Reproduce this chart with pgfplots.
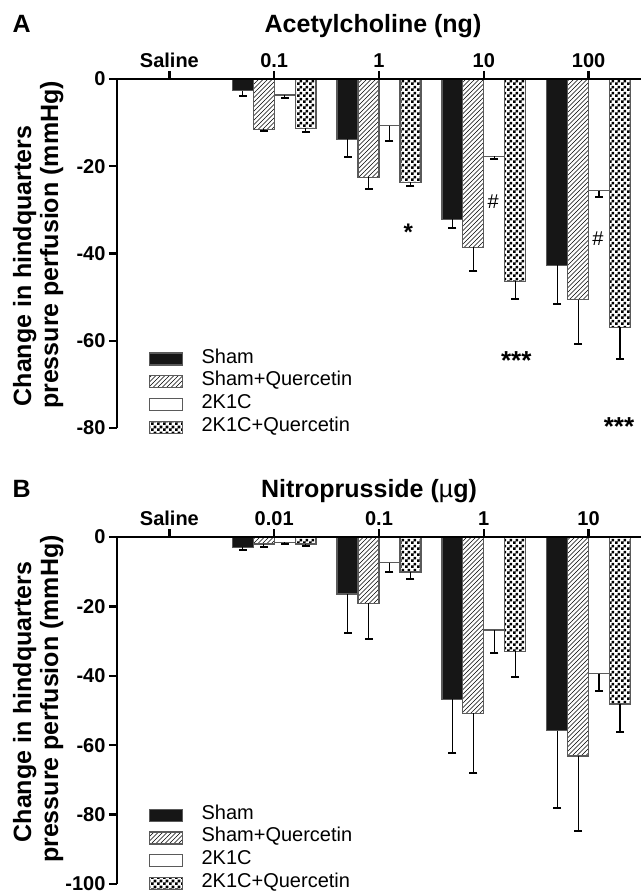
\documentclass[border=0pt]{standalone}
\usepackage{fontspec}
\setmainfont{Liberation Sans}
\usepackage{pgfplots}
\pgfplotsset{compat=1.18}
\usetikzlibrary{patterns}

\definecolor{barblack}{HTML}{161616}
\definecolor{bargray}{HTML}{5A5A5A}

% hatch and checker fills, sized to the reference
\pgfdeclarepatternformonly{myhatch}{\pgfqpoint{-1pt}{-1pt}}{\pgfqpoint{5.5pt}{5.5pt}}{\pgfqpoint{4.5pt}{4.5pt}}%
{\pgfsetlinewidth{0.6pt}\pgfpathmoveto{\pgfqpoint{0pt}{0pt}}\pgfpathlineto{\pgfqpoint{4.6pt}{4.6pt}}\pgfusepath{stroke}}
\pgfdeclarepatternformonly{mychecker}{\pgfpointorigin}{\pgfqpoint{5.6pt}{5.6pt}}{\pgfqpoint{5.6pt}{5.6pt}}%
{\pgfpathrectangle{\pgfpointorigin}{\pgfqpoint{2.8pt}{2.8pt}}\pgfpathrectangle{\pgfqpoint{2.8pt}{2.8pt}}{\pgfqpoint{2.8pt}{2.8pt}}\pgfusepath{fill}}

\newcommand\fnt[1]{\fontsize{#1}{#1}\selectfont}

\pgfplotsset{
  panel/.style={
    scale only axis, width=524pt, anchor=south west,
    xmin=-0.5, xmax=4.5,
    axis x line*=top, axis y line*=left,
    axis line style={line width=2.6pt, -},
    tick align=outside, major tick length=8pt,
    every tick/.style={black, line width=2.4pt},
    xtick={0,1,2,3,4},
    x tick label style={font=\fnt{20}\bfseries},
    y tick label style={font=\fnt{20}\bfseries},
    axis on top, clip=false,
    legend style={anchor=north west, draw=none, fill=none, inner sep=0pt, outer sep=0pt,
      row sep=2.7pt, legend cell align=left,
      nodes={font=\fnt{20}, inner sep=0pt, text height=14pt, text depth=6pt}},
    % patch 33pt wide; the discarded point widens the cell so the text starts 52pt from the patch's left edge
    legend image code/.code={\draw[#1] (0pt,-6pt) rectangle (33pt,6pt);
      \pgfpathmoveto{\pgfqpoint{52pt}{0pt}}\pgfusepath{discard}},
    error bars/error bar style={line width=1.2pt, black},
    error bars/error mark options={rotate=90, black, line width=2pt, mark size=4pt},
  },
  barbase/.style={ybar, bar width=0.2, bar shift=0pt, draw=bargray, line width=1.3pt,
    error bars/y dir=minus, error bars/y explicit},
  sham/.style={barbase, fill=barblack},
  shamq/.style={barbase, fill=white, postaction={pattern=myhatch}},
  kc/.style={barbase, fill=white},
  kcq/.style={barbase, fill=white, postaction={pattern=mychecker}},
}

\begin{document}
\begin{tikzpicture}
\path[use as bounding box] (0,0) rectangle (641pt,-896pt);

% ---------- panel A ----------
\node[anchor=base west, font=\fnt{25}\bfseries] at (9pt,-33pt) {A};
\node[anchor=base, font=\fnt{25}\bfseries] at (373pt,-33pt) {Acetylcholine (ng)};
\node[rotate=90, anchor=base, font=\fnt{25}\bfseries] at (31pt,-266pt) {Change in hindquarters};
\node[rotate=90, anchor=base, font=\fnt{25}\bfseries] at (58pt,-245pt) {pressure perfusion (mmHg)};

\begin{axis}[panel, at={(117pt,-428pt)}, height=349pt,
  ymin=-80, ymax=0, ytick={-80,-60,-40,-20,0}, yticklabels={-80,-60,-40,-20,0},
  xticklabels={Saline,0.1,1,10,100},
  legend style={at={(axis description cs:0.061,0.226)}}]
% bars sit at group -0.3, -0.1, +0.1, +0.3
\addplot[sham] coordinates {(0.7,-2.7) +- (0,1.1) (1.7,-13.8) +- (0,4.1) (2.7,-32.2) +- (0,2.0) (3.7,-42.7) +- (0,8.8)};
\addlegendentry{Sham}
\addplot[shamq] coordinates {(0.9,-11.5) +- (0,0.5) (1.9,-22.5) +- (0,2.8) (2.9,-38.6) +- (0,5.4) (3.9,-50.6) +- (0,10.2)};
\addlegendentry{Sham+Quercetin}
\addplot[kc] coordinates {(1.1,-3.7) +- (0,0.6) (2.1,-10.7) +- (0,3.5) (3.1,-17.7) +- (0,0.6) (4.1,-25.6) +- (0,1.5)};
\addlegendentry{2K1C}
\addplot[kcq] coordinates {(1.3,-11.3) +- (0,0.8) (2.3,-23.7) +- (0,0.8) (3.3,-46.4) +- (0,4.1) (4.3,-56.9) +- (0,7.3)};
\addlegendentry{2K1C+Quercetin}
\node[font=\fnt{24}\bfseries] at (axis cs:2.28,-35.2) {*};
\node[font=\fnt{20}] at (axis cs:3.09,-28.2) {\#};
\node[font=\fnt{20}] at (axis cs:4.09,-36.5) {\#};
\node[font=\fnt{26}\bfseries] at (axis cs:3.31,-64.5) {***};
\node[font=\fnt{26}\bfseries] at (axis cs:4.29,-79.7) {***};
\end{axis}

% ---------- panel B ----------
\node[anchor=base west, font=\fnt{25}\bfseries] at (9pt,-497pt) {B};
\node[anchor=base, font=\fnt{25}\bfseries] at (369pt,-497pt) {Nitroprusside (\textmd{µ}g)};
\node[rotate=90, anchor=base, font=\fnt{25}\bfseries] at (31pt,-702pt) {Change in hindquarters};
\node[rotate=90, anchor=base, font=\fnt{25}\bfseries] at (58pt,-699pt) {pressure perfusion (mmHg)};

\begin{axis}[panel, at={(117pt,-884pt)}, height=347pt,
  ymin=-100, ymax=0, ytick={-100,-80,-60,-40,-20,0}, yticklabels={-100,-80,-60,-40,-20,0},
  xticklabels={Saline,0.01,0.1,1,10},
  legend style={at={(axis description cs:0.061,0.227)}}]
\addplot[sham] coordinates {(0.7,-3.0) +- (0,0.8) (1.7,-16.4) +- (0,11.2) (2.7,-46.8) +- (0,15.4) (3.7,-55.8) +- (0,22.3)};
\addlegendentry{Sham}
\addplot[shamq] coordinates {(0.9,-2.0) +- (0,0.8) (1.9,-19.1) +- (0,10.4) (2.9,-50.8) +- (0,17.1) (3.9,-63.1) +- (0,21.5)};
\addlegendentry{Sham+Quercetin}
\addplot[kc] coordinates {(1.1,-1.5) +- (0,0.5) (2.1,-7.4) +- (0,2.8) (3.1,-26.8) +- (0,6.7) (4.1,-39.4) +- (0,5.0)};
\addlegendentry{2K1C}
\addplot[kcq] coordinates {(1.3,-2.0) +- (0,0.7) (2.3,-10.1) +- (0,2.0) (3.3,-32.9) +- (0,7.5) (4.3,-48.1) +- (0,8.1)};
\addlegendentry{2K1C+Quercetin}
\end{axis}
\end{tikzpicture}
\end{document}
